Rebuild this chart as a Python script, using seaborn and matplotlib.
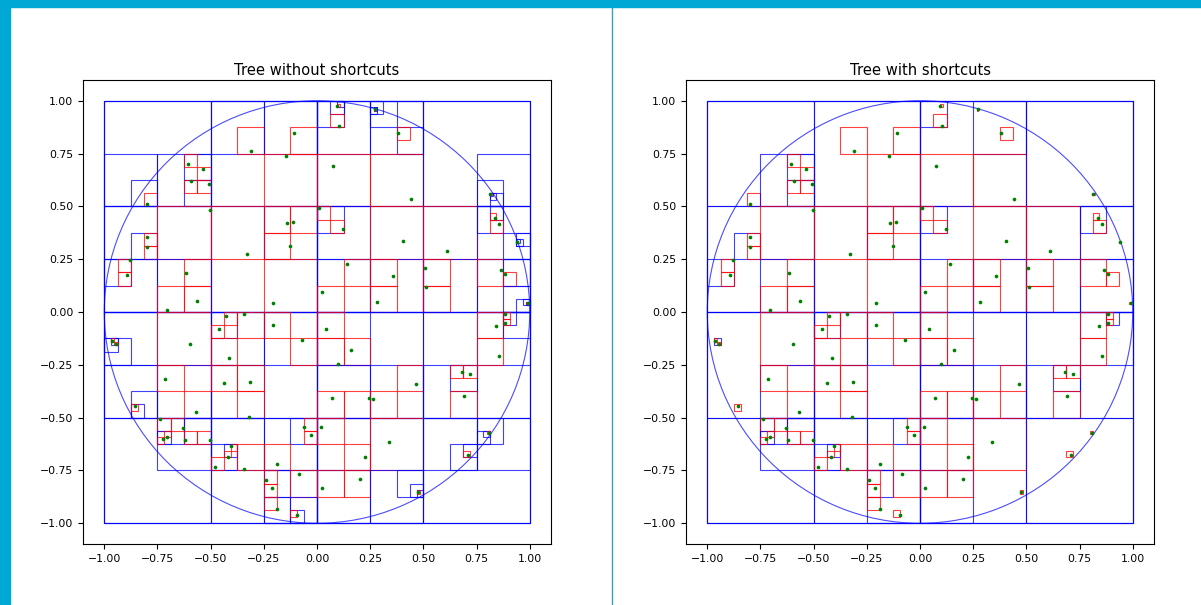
import numpy as np
import matplotlib
matplotlib.use("Agg")
import matplotlib.pyplot as plt
from matplotlib.patches import Rectangle, Circle
from matplotlib.lines import Line2D
import seaborn as sns

# points (same set in both panels)
pt_x = [-0.310, -0.146, -0.107, -0.605, -0.538, -0.592, -0.508, -0.801, -0.503, -0.141,
        -0.114, -0.127, -0.331, -0.801, -0.801, -0.879, -0.895, -0.618, -0.566, -0.707,
        -0.205,
        0.096, 0.105, 0.272, 0.383, 0.075, 0.441, 0.008, 0.123, 0.405, 0.609,
        0.814, 0.839, 0.854, 0.939, 0.139, 0.358, 0.507, 0.512, 0.025, 0.282,
        0.865, 0.886, 0.992,
        -0.429, -0.342, -0.459, -0.205, -0.072, -0.599, -0.415, -0.966, -0.947, -0.716,
        -0.437, -0.313, -0.856, -0.569, -0.320, -0.737, -0.630, -0.722, -0.703, -0.619,
        -0.503, -0.404, -0.418, -0.478, -0.343, -0.190, -0.083, -0.241, -0.212, -0.188,
        -0.094, -0.060, -0.028,
        0.041, 0.158, 0.097, 0.465, 0.072, 0.246, 0.265, 0.681, 0.721, 0.690,
        0.842, 0.854, 0.883, 0.883, 0.020, 0.340, 0.227, 0.202, 0.025, 0.808,
        0.709, 0.477]
pt_y = [0.761, 0.737, 0.846, 0.702, 0.676, 0.622, 0.606, 0.509, 0.485, 0.419,
        0.424, 0.313, 0.276, 0.356, 0.309, 0.246, 0.173, 0.184, 0.054, 0.010,
        0.041,
        0.975, 0.879, 0.959, 0.849, 0.690, 0.535, 0.491, 0.394, 0.335, 0.291,
        0.559, 0.446, 0.417, 0.331, 0.225, 0.170, 0.208, 0.120, 0.096, 0.049,
        0.200, 0.178, 0.041,
        -0.021, -0.011, -0.082, -0.060, -0.134, -0.151, -0.216, -0.137, -0.153, -0.315,
        -0.338, -0.330, -0.446, -0.472, -0.497, -0.506, -0.547, -0.600, -0.590, -0.607,
        -0.604, -0.636, -0.685, -0.733, -0.744, -0.718, -0.765, -0.793, -0.831, -0.932,
        -0.961, -0.544, -0.580,
        -0.082, -0.180, -0.248, -0.339, -0.409, -0.407, -0.414, -0.284, -0.292, -0.399,
        -0.068, -0.210, -0.009, -0.052, -0.546, -0.614, -0.688, -0.789, -0.833, -0.571,
        -0.678, -0.850]

radius = 1.0
root_box = (-1.0, -1.0, 2.0)
min_depth = 2
max_depth = 14
tick_vals = [-1.0, -0.75, -0.5, -0.25, 0.0, 0.25, 0.5, 0.75, 1.0]
titles = ["Tree without shortcuts", "Tree with shortcuts"]

X = np.array(pt_x)
Y = np.array(pt_y)


def build(x0, y0, size, idx, depth):
    far = max(np.hypot(cx, cy) for cx in (x0, x0 + size) for cy in (y0, y0 + size))
    node = {"box": (x0, y0, size), "pts": idx, "depth": depth, "kids": []}
    split = depth < min_depth or len(idx) > 1 or (len(idx) == 1 and far > radius)
    if split and depth < max_depth:
        h = size / 2
        # children in NW, NE, SW, SE order
        for cy in (y0 + h, y0):
            for cx in (x0, x0 + h):
                sub = [i for i in idx if cx <= X[i] < cx + h and cy <= Y[i] < cy + h]
                if sub or depth < min_depth:
                    node["kids"].append(build(cx, cy, h, sub, depth + 1))
    return node


def shortcut(node):
    kids = []
    for k in node["kids"]:
        while len(k["kids"]) == 1 and k["depth"] > min_depth:
            k = k["kids"][0]
        kids.append(shortcut(k))
    return {**node, "kids": kids}


def draw(ax, node):
    leaf = not node["kids"]
    red = leaf and len(node["pts"]) > 0
    x0, y0, s = node["box"]
    ax.add_patch(Rectangle((x0, y0), s, s, fill=False,
                           edgecolor="red" if red else "blue",
                           lw=0.8, alpha=0.75))
    for k in node["kids"]:
        draw(ax, k)


tree = build(*root_box, list(range(len(X))), 0)
trees = [tree, shortcut(tree)]

fig = plt.figure(figsize=(12.01, 6.05), dpi=100)
W, H = 1201, 605
positions = [[83 / W, 60.6 / H, 468 / W, 464.8 / H],
             [686 / W, 60.6 / H, 468 / W, 464.8 / H]]

for pos, t, title in zip(positions, trees, titles):
    ax = fig.add_axes(pos)
    draw(ax, t)
    ax.add_patch(Circle((0, 0), radius, fill=False, edgecolor="blue", lw=0.8, alpha=0.7))
    sns.scatterplot(x=X, y=Y, ax=ax, color="green", s=7, linewidth=0, zorder=5)
    ax.set_xlim(-1.1, 1.1)
    ax.set_ylim(-1.1, 1.1)
    ax.set_xticks(tick_vals)
    ax.set_yticks(tick_vals)
    ax.set_xticklabels([f"{v:.2f}".replace("-", "\u2212") for v in tick_vals])
    ax.set_yticklabels([f"{v:.2f}".replace("-", "\u2212") for v in tick_vals])
    ax.tick_params(labelsize=7.8)
    ax.set_title(title, fontsize=10.6, pad=3.5)

# notebook frame around the two figures
fig.add_artist(Rectangle((0, 1 - 7 / H), 1, 7 / H, transform=fig.transFigure,
                         color="#00a8d6", zorder=10))
fig.add_artist(Rectangle((0, 0), 10 / W, 1, transform=fig.transFigure,
                         color="#00a8d6", zorder=10))
fig.add_artist(Line2D([611.5 / W] * 2, [0, 1 - 7 / H], transform=fig.transFigure,
                      color="#3a9fc4", lw=1))

fig.savefig("out.png", dpi=100)
